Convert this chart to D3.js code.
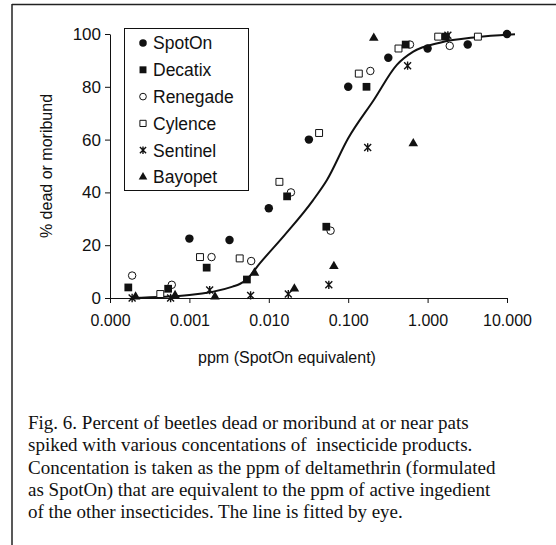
<!DOCTYPE html>
<html><head><meta charset="utf-8">
<script src="https://cdn.jsdelivr.net/npm/d3@7/dist/d3.min.js"></script>
<style>body{margin:0;background:#fff}svg{display:block}</style>
</head><body>
<svg id="chart" width="556" height="545"></svg>
<script>
// ---- data ----
const seriesNames = ["SpotOn", "Decatix", "Renegade", "Cylence", "Sentinel", "Bayopet"];
const spotOnX = [0.001, 0.0032, 0.01, 0.032, 0.1, 0.32, 1, 3.2, 10];
const spotOnY = [22.5, 22, 34, 60, 80, 91, 94.5, 96, 100];
const decatixX = [0.00017, 0.00054, 0.00165, 0.0053, 0.017, 0.053, 0.17, 0.53, 1.7];
const decatixY = [4, 3.5, 11.5, 7, 38.5, 27, 80, 96, 99];
const renegadeX = [0.00019, 0.0006, 0.0019, 0.006, 0.019, 0.06, 0.19, 0.6, 1.9];
const renegadeY = [8.5, 5, 15.5, 14, 40, 25.5, 86, 96, 95.5];
const cylenceX = [0.00043, 0.00136, 0.0043, 0.0136, 0.043, 0.136, 0.43, 1.36, 4.3];
const cylenceY = [1.5, 15.5, 15, 44, 62.5, 85, 94.5, 99, 99];
const sentinelX = [0.00019, 0.00058, 0.0018, 0.0059, 0.0176, 0.057, 0.176, 0.56, 1.8];
const sentinelY = [0, 0, 3, 1, 1.5, 5, 57, 88, 99.5];
const bayopetX = [0.00021, 0.00066, 0.0021, 0.0066, 0.021, 0.066, 0.21, 0.66];
const bayopetY = [0.5, 1, 0.5, 9.5, 3.5, 12, 98.5, 58.5];
const fitX = [0.00019, 0.001, 0.0035, 0.0043, 0.0053, 0.0077, 0.016, 0.036, 0.054, 0.1, 0.21, 0.41, 0.66, 1.43, 4.15, 12.6];
const fitY = [0, 1.1, 4.3, 5.3, 7.1, 13.1, 24, 37, 44.7, 60.5, 75, 88.3, 93.3, 96.7, 98.8, 99.9];
const xTickValues = [0.0001, 0.001, 0.01, 0.1, 1, 10];
const xTickLabels = ["0.000", "0.001", "0.010", "0.100", "1.000", "10.000"];
const yTickValues = [0, 20, 40, 60, 80, 100];
const xTitle = "ppm (SpotOn equivalent)";
const yTitle = "% dead or moribund";
const captionLines = [
  "Fig. 6. Percent of beetles dead or moribund at or near pats",
  "spiked with various concentations of  insecticide products.",
  "Concentation is taken as the ppm of deltamethrin (formulated",
  "as SpotOn) that are equivalent to the ppm of active ingedient",
  "of the other insecticides. The line is fitted by eye."
];

// ---- drawing ----
const svg = d3.select("#chart");
const SANS = "Arial, 'Liberation Sans', sans-serif";
const SERIF = "'Times New Roman', 'Liberation Serif', serif";
const ink = "#111";

// outer frame (top + left edges visible)
svg.append("line").attr("x1", 12).attr("x2", 556).attr("y1", 4.5).attr("y2", 4.5).attr("stroke", "#222").attr("stroke-width", 1.5);
svg.append("line").attr("x1", 12).attr("x2", 12).attr("y1", 4).attr("y2", 545).attr("stroke", "#222").attr("stroke-width", 1.5);

const x = d3.scaleLog().domain([1e-4, 10]).range([110, 507]);
const y = d3.scaleLinear().domain([0, 100]).range([298, 34]);

const xAxis = d3.axisBottom(x).tickValues(xTickValues).tickFormat((d, i) => xTickLabels[i]).tickSizeInner(5).tickSizeOuter(0).tickPadding(12);
const yAxis = d3.axisLeft(y).tickValues(yTickValues).tickSizeInner(5).tickSizeOuter(0).tickPadding(4);

const gx = svg.append("g").attr("transform", `translate(0,${y(0)})`).call(xAxis);
const gy = svg.append("g").attr("transform", `translate(${x(1e-4)},0)`).call(yAxis);
[gx, gy].forEach(g => {
  g.select(".domain").attr("stroke", ink).attr("stroke-width", 1);
  g.selectAll(".tick line").attr("stroke", ink).attr("stroke-width", 1);
  g.selectAll(".tick text").attr("fill", ink).style("font-family", SANS).style("font-size", "16px");
});
gy.selectAll(".tick text").style("font-size", "17px");

// axis titles
svg.append("text").attr("x", 287).attr("y", 363).attr("text-anchor", "middle")
  .style("font-family", SANS).style("font-size", "16px").attr("fill", ink).text(xTitle);
svg.append("text").attr("transform", `translate(52,166) rotate(-90)`).attr("text-anchor", "middle")
  .style("font-family", SANS).style("font-size", "16px").attr("fill", ink).text(yTitle);

// fitted line
const fit = fitX.map((v, i) => [v, fitY[i]]);
svg.append("path").datum(fit)
  .attr("d", d3.line().x(d => x(d[0])).y(d => y(d[1])).curve(d3.curveMonotoneX))
  .attr("fill", "none").attr("stroke", ink).attr("stroke-width", 2);

// markers
const star = {
  draw(ctx, size) {
    const r = Math.sqrt(size) / 2;
    ctx.moveTo(-r, -r); ctx.lineTo(r, r);
    ctx.moveTo(-r, r); ctx.lineTo(r, -r);
    ctx.moveTo(0, -r * 1.2); ctx.lineTo(0, r * 1.2);
  }
};
const styles = {
  SpotOn:   {type: d3.symbolCircle, size: 56, fill: ink, stroke: "none", sw: 1},
  Decatix:  {type: d3.symbolSquare, size: 60, fill: ink, stroke: "none", sw: 1},
  Renegade: {type: d3.symbolCircle, size: 44, fill: "#fff", stroke: ink, sw: 1},
  Cylence:  {type: d3.symbolSquare, size: 48, fill: "#fff", stroke: ink, sw: 1},
  Sentinel: {type: star, size: 48, fill: "none", stroke: ink, sw: 1.4},
  Bayopet:  {type: d3.symbolTriangle, size: 40, fill: ink, stroke: "none", sw: 1}
};
const seriesData = {
  SpotOn: [spotOnX, spotOnY], Decatix: [decatixX, decatixY], Renegade: [renegadeX, renegadeY],
  Cylence: [cylenceX, cylenceY], Sentinel: [sentinelX, sentinelY], Bayopet: [bayopetX, bayopetY]
};
const drawOrder = ["Bayopet", "Sentinel", "Cylence", "Renegade", "SpotOn", "Decatix"];
drawOrder.forEach(name => {
  const st = styles[name];
  const [xs, ys] = seriesData[name];
  const pts = xs.map((v, i) => [v, ys[i]]);
  svg.append("g").selectAll("path").data(pts).join("path")
    .attr("transform", d => `translate(${x(d[0])},${y(d[1])})`)
    .attr("d", d3.symbol(st.type, st.size)())
    .attr("fill", st.fill).attr("stroke", st.stroke).attr("stroke-width", st.sw);
});

// legend
const lg = svg.append("g");
lg.append("rect").attr("x", 124.5).attr("y", 28.5).attr("width", 124).attr("height", 162)
  .attr("fill", "#fff").attr("stroke", ink).attr("stroke-width", 1);
seriesNames.forEach((name, i) => {
  const cy = 43 + i * 26.8;
  const st = styles[name];
  lg.append("path").attr("transform", `translate(143,${cy})`)
    .attr("d", d3.symbol(st.type, st.size * 0.8)())
    .attr("fill", st.fill).attr("stroke", st.stroke).attr("stroke-width", st.sw);
  lg.append("text").attr("x", 153).attr("y", cy).attr("dy", "0.36em")
    .style("font-family", SANS).style("font-size", "17.5px").attr("fill", ink).text(name);
});

// caption
const cap = svg.append("text").style("font-family", SERIF).style("font-size", "19px").attr("fill", ink);
captionLines.forEach((t, i) => {
  cap.append("tspan").attr("x", 28).attr("y", 429 + i * 22.3).attr("xml:space", "preserve").text(t);
});
</script>
</body></html>
